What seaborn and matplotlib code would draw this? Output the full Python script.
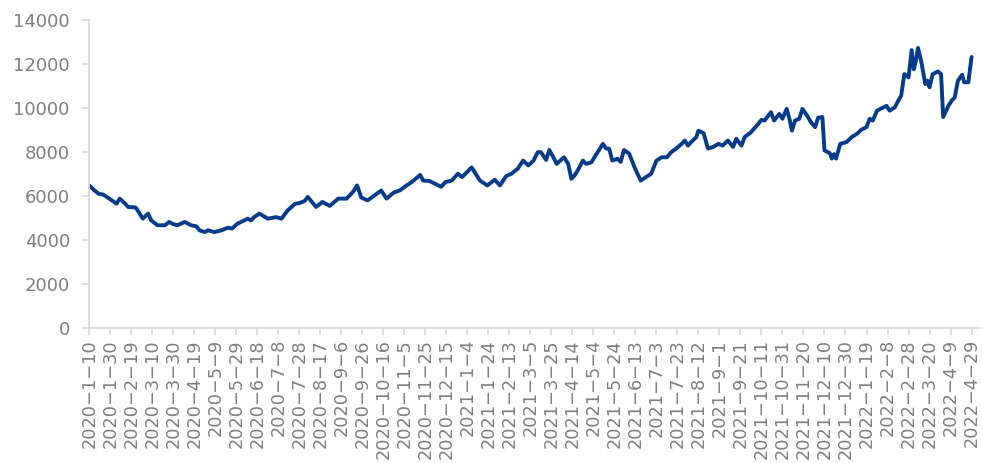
import matplotlib
matplotlib.use("Agg")
import matplotlib.pyplot as plt
import seaborn as sns
import pandas as pd
import numpy as np

dates = [
    "2020-01-10", "2020-01-15", "2020-01-19", "2020-01-23", "2020-01-27", "2020-01-30",
    "2020-02-05", "2020-02-08", "2020-02-13", "2020-02-16", "2020-02-23", "2020-02-25",
    "2020-03-01", "2020-03-06", "2020-03-09", "2020-03-15", "2020-03-22", "2020-03-26",
    "2020-03-30", "2020-04-03", "2020-04-10", "2020-04-16", "2020-04-21", "2020-04-24",
    "2020-04-29", "2020-05-02", "2020-05-08", "2020-05-15", "2020-05-21", "2020-05-25",
    "2020-05-30", "2020-06-09", "2020-06-12", "2020-06-15", "2020-06-20", "2020-06-28",
    "2020-07-06", "2020-07-11", "2020-07-17", "2020-07-24", "2020-07-28", "2020-08-02",
    "2020-08-05", "2020-08-13", "2020-08-19", "2020-08-26", "2020-09-03", "2020-09-11",
    "2020-09-17", "2020-09-21", "2020-09-25", "2020-10-01", "2020-10-14", "2020-10-19",
    "2020-10-26", "2020-11-01", "2020-11-07", "2020-11-12", "2020-11-20", "2020-11-23",
    "2020-11-29", "2020-12-04", "2020-12-10", "2020-12-14", "2020-12-20", "2020-12-26",
    "2020-12-30", "2021-01-08", "2021-01-16", "2021-01-23", "2021-01-30", "2021-02-04",
    "2021-02-10", "2021-02-15", "2021-02-18", "2021-02-21", "2021-02-26", "2021-03-03",
    "2021-03-08", "2021-03-12", "2021-03-15", "2021-03-20", "2021-03-23", "2021-03-26",
    "2021-03-30", "2021-04-06", "2021-04-10", "2021-04-13", "2021-04-16", "2021-04-19",
    "2021-04-24", "2021-04-27", "2021-05-02", "2021-05-08", "2021-05-13", "2021-05-16",
    "2021-05-19", "2021-05-22", "2021-05-27", "2021-05-30", "2021-06-02", "2021-06-07",
    "2021-06-12", "2021-06-18", "2021-06-23", "2021-06-28", "2021-07-03", "2021-07-08",
    "2021-07-13", "2021-07-17", "2021-07-22", "2021-07-27", "2021-07-30", "2021-08-02",
    "2021-08-05", "2021-08-10", "2021-08-12", "2021-08-17", "2021-08-21", "2021-08-26",
    "2021-08-31", "2021-09-04", "2021-09-09", "2021-09-14", "2021-09-17", "2021-09-22",
    "2021-09-25", "2021-10-01", "2021-10-08", "2021-10-11", "2021-10-14", "2021-10-20",
    "2021-10-23", "2021-10-28", "2021-10-31", "2021-11-04", "2021-11-07", "2021-11-09",
    "2021-11-12", "2021-11-16", "2021-11-19", "2021-11-24", "2021-11-27", "2021-12-01",
    "2021-12-04", "2021-12-08", "2021-12-10", "2021-12-15", "2021-12-17", "2021-12-19",
    "2021-12-21", "2021-12-25", "2021-12-31", "2022-01-05", "2022-01-10", "2022-01-14",
    "2022-01-19", "2022-01-22", "2022-01-25", "2022-01-29", "2022-02-03", "2022-02-07",
    "2022-02-10", "2022-02-15", "2022-02-18", "2022-02-21", "2022-02-24", "2022-02-28",
    "2022-03-03", "2022-03-05", "2022-03-07", "2022-03-09", "2022-03-12", "2022-03-16",
    "2022-03-18", "2022-03-20", "2022-03-23", "2022-03-28", "2022-03-31", "2022-04-02",
    "2022-04-07", "2022-04-10", "2022-04-13", "2022-04-16", "2022-04-20", "2022-04-22",
    "2022-04-26", "2022-04-29",
]

values = [
    6480, 6250, 6100, 6070, 5950, 5850,
    5650, 5880, 5660, 5500, 5480, 5350,
    4970, 5200, 4890, 4670, 4670, 4820,
    4720, 4670, 4820, 4670, 4620, 4440,
    4360, 4440, 4360, 4440, 4560, 4520,
    4740, 4970, 4890, 5040, 5200, 4970,
    5040, 4970, 5350, 5650, 5680, 5770,
    5960, 5500, 5730, 5550, 5880, 5880,
    6180, 6480, 5930, 5800, 6250, 5880,
    6160, 6260, 6480, 6630, 6960, 6700,
    6680, 6560, 6420, 6630, 6700, 7010,
    6860, 7300, 6700, 6480, 6740, 6480,
    6910, 7010, 7130, 7240, 7610, 7390,
    7610, 7990, 7990, 7640, 8090, 7840,
    7460, 7760, 7460, 6780, 6930, 7160,
    7610, 7460, 7530, 7990, 8370, 8160,
    8150, 7610, 7690, 7550, 8090, 7930,
    7320, 6700, 6860, 7010, 7610, 7760,
    7760, 7990, 8160, 8370, 8520, 8290,
    8450, 8680, 8970, 8850, 8160, 8230,
    8370, 8290, 8520, 8230, 8600, 8290,
    8680, 8900, 9280, 9460, 9430, 9810,
    9430, 9730, 9510, 9960, 9430, 8970,
    9430, 9510, 9960, 9610, 9360, 9130,
    9560, 9590, 8070, 7950, 7700, 7900,
    7700, 8370, 8450, 8680, 8830, 9010,
    9130, 9510, 9430, 9880, 10000, 10100,
    9880, 10030, 10310, 10560, 11540, 11390,
    12630, 11760, 12140, 12730, 12140, 11090,
    11240, 10940, 11540, 11660, 11540, 9590,
    10100, 10330, 10480, 11240, 11510, 11170,
    11170, 12320,
]

tick_start = "2020-01-10"
tick_end = "2022-04-29"
tick_step_days = 20
y_ticks = [0, 2000, 4000, 6000, 8000, 10000, 12000, 14000]

df = pd.DataFrame({"date": pd.to_datetime(dates), "value": values})

sns.set_theme(style="white")
plt.rcParams["font.family"] = ["DejaVu Sans"]

fig = plt.figure(figsize=(9.82, 4.63), dpi=100)
ax = fig.add_axes([0.0909, 0.2916, 0.907, 0.6652])

line_color = "#053B8A"
sns.lineplot(data=df, x="date", y="value", ax=ax, color=line_color, linewidth=2.8)
for ln in ax.get_lines():
    ln.set_solid_joinstyle("round")
    ln.set_solid_capstyle("round")

tick_dates = pd.date_range(tick_start, tick_end, freq=f"{tick_step_days}D")
ax.set_xticks(tick_dates)
ax.set_xticklabels([f"{d.year}\u2212{d.month}\u2212{d.day}" for d in tick_dates],
                   rotation=90, fontsize=12.8, color="#7F7F7F")
ax.set_xlim(pd.Timestamp(tick_start), pd.Timestamp("2022-05-07"))

ax.set_ylim(0, 14000)
ax.set_yticks(y_ticks)
ax.set_yticklabels([str(v) for v in y_ticks], fontsize=13, color="#7F7F7F")

ax.set_xlabel("")
ax.set_ylabel("")
for s in ["top", "right"]:
    ax.spines[s].set_visible(False)
for s in ["left", "bottom"]:
    ax.spines[s].set_color("#D9D9D9")
    ax.spines[s].set_linewidth(1.3)
ax.tick_params(axis="both", which="major", length=5, width=1.2, color="#D9D9D9",
               direction="out", bottom=True, left=True)
ax.tick_params(axis="y", pad=9)
ax.tick_params(axis="x", pad=3)
ax.grid(False)

fig.savefig("out.png", dpi=100)
